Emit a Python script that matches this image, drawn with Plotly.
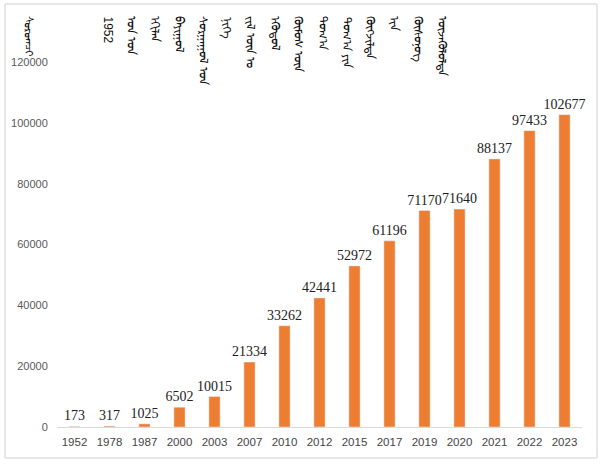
import plotly.graph_objects as go

years = ["1952","1978","1987","2000","2003","2007","2010","2012","2015","2017","2019","2020","2021","2022","2023"]
values = [173,317,1025,6502,10015,21334,33262,42441,52972,61196,71170,71640,88137,97433,102677]
y_ticks = [0,20000,40000,60000,80000,100000,120000]
y_tick_text = [str(v) for v in y_ticks]

title_word = "ᠰᠤᠷᠤᠭᠴᠢ"
caption_cols = ["1952", "ᠣᠨ ᠣᠨ", "ᠡᠬᠢᠯᠡᠨ", "ᠪᠠᠶᠢᠭᠤᠯ", "ᠰᠤᠷᠭᠠᠭᠤᠯ ᠤᠨ", "ᠨᠢᠭᠡ",
                "ᠵᠢᠯ ᠦᠨ ᠤ", "ᠡᠭᠦᠳᠦᠯ", "ᠬᠦᠮᠦᠰ ᠦᠨ", "ᠲᠣᠭ᠎ᠠ", "ᠲᠣᠭ᠎ᠠ ᠶᠢᠨ",
                "ᠬᠥᠭᠵᠢᠯᠲᠡ", "ᠢᠨ", "ᠬᠦᠰᠦᠨᠦᠭ", "ᠦᠵᠡᠭᠦᠯᠦᠯᠲᠡ"]

# plot area in pixels
L, R, T, B = 57, 582, 62, 427
W, H = R - L, B - T
def px(x): return (x - L) / W
def py(y): return (B - y) / H

fig = go.Figure(go.Bar(x=years, y=values, marker_color="#ED7D31", width=0.32,
                       text=[str(v) for v in values], textposition="outside",
                       constraintext="none",
                       textfont=dict(family="Liberation Serif", size=14, color="#222"),
                       cliponaxis=False))

anns = [dict(text=title_word, x=px(29), y=py(14), xref="paper", yref="paper", showarrow=False,
             textangle=90, xanchor="center", yanchor="top", font=dict(size=11, color="#111"))]
col_x0, col_dx = 108, 23.9
for i, t in enumerate(caption_cols):
    f = dict(size=12, color="#111")
    if t.isdigit():
        f["family"] = "Liberation Sans"
        f["size"] = 12
    anns.append(dict(text=t, x=px(col_x0 + i * col_dx), y=py(14), xref="paper", yref="paper",
                     showarrow=False, textangle=90, xanchor="center", yanchor="top", font=f))

shapes = [dict(type="rect", xref="paper", yref="paper", x0=px(5), x1=px(597), y0=py(458), y1=py(4),
               line=dict(color="#d0d0d0", width=1), fillcolor="rgba(0,0,0,0)", layer="below")]

fig.update_layout(width=603, height=465, margin=dict(l=L, r=603 - R, t=T, b=465 - B),
                  plot_bgcolor="white", paper_bgcolor="white", showlegend=False,
                  annotations=anns, shapes=shapes, bargap=0.68)
fig.update_yaxes(range=[0, 120000], tickvals=y_ticks, ticktext=y_tick_text, showgrid=False,
                 zeroline=False, ticks="outside", ticklen=6, tickcolor="rgba(0,0,0,0)",
                 tickfont=dict(family="Liberation Sans", size=11, color="#595959"))
fig.update_xaxes(showline=True, linecolor="#d9d9d9", linewidth=1, ticks="outside", ticklen=4,
                 tickcolor="rgba(0,0,0,0)",
                 tickfont=dict(family="Liberation Sans", size=11.5, color="#444"))
fig.write_html("out.html")
